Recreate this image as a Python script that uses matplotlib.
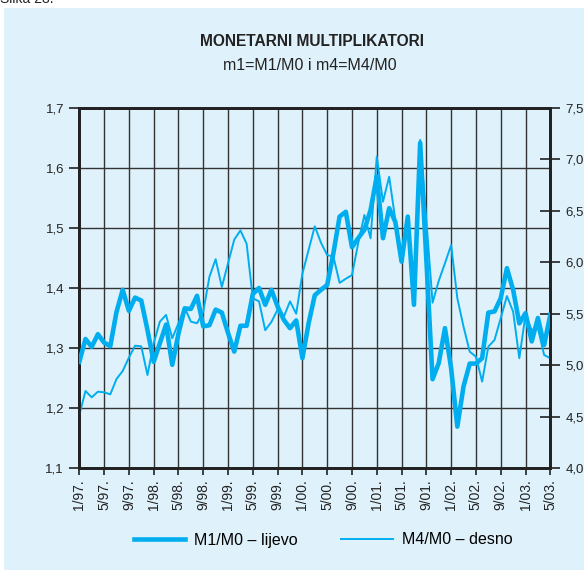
import matplotlib
matplotlib.use("Agg")
import matplotlib.pyplot as plt
from matplotlib.patches import Rectangle

plt.rcParams['font.family'] = ['Liberation Sans', 'DejaVu Sans']

# monthly data 1/97 - 5/03
m1_m0 = [1.277, 1.315, 1.302, 1.323, 1.309, 1.303, 1.360, 1.397, 1.362, 1.384,
         1.379, 1.330, 1.277, 1.308, 1.339, 1.272, 1.324, 1.366, 1.365, 1.387,
         1.336, 1.338, 1.364, 1.359, 1.325, 1.294, 1.337, 1.337, 1.390, 1.400,
         1.372, 1.397, 1.369, 1.347, 1.333, 1.346, 1.283, 1.341, 1.388, 1.397,
         1.405, 1.458, 1.519, 1.527, 1.468, 1.483, 1.497, 1.530, 1.586, 1.483,
         1.533, 1.510, 1.444, 1.519, 1.372, 1.642, 1.447, 1.248, 1.275, 1.333,
         1.266, 1.169, 1.236, 1.274, 1.274, 1.283, 1.359, 1.361, 1.383, 1.433,
         1.397, 1.341, 1.358, 1.311, 1.350, 1.305, 1.355]
m4_m0 = [4.515, 4.749, 4.687, 4.742, 4.736, 4.716, 4.865, 4.943, 5.073, 5.189,
         5.183, 4.904, 5.212, 5.423, 5.488, 5.261, 5.407, 5.562, 5.423, 5.407,
         5.52, 5.86, 6.03, 5.76, 5.99, 6.22, 6.31, 6.18, 5.65, 5.62,
         5.34, 5.42, 5.54, 5.47, 5.62, 5.50, 5.89, 6.12, 6.35, 6.19,
         6.07, 6.055, 5.80, 5.84, 5.876, 6.185, 6.46, 6.233, 7.027, 6.589,
         6.832, 6.41, 6.02, 6.44, 5.75, 7.19, 6.41, 5.607, 5.82, 5.99,
         6.168, 5.65, 5.374, 5.131, 5.082, 4.84, 5.18, 5.245, 5.456, 5.672,
         5.52, 5.067, 5.49, 5.342, 5.358, 5.099, 5.067]

x_labels = ['1/97.', '5/97.', '9/97.', '1/98.', '5/98.', '9/98.', '1/99.', '5/99.',
            '9/99.', '1/00.', '5/00.', '9/00.', '1/01.', '5/01.', '9/01.', '1/02.',
            '5/02.', '9/02.', '1/03.', '5/03.']
left_ticks = [1.1, 1.2, 1.3, 1.4, 1.5, 1.6, 1.7]
left_labels = ['1,1', '1,2', '1,3', '1,4', '1,5', '1,6', '1,7']
right_ticks = [4.0, 4.5, 5.0, 5.5, 6.0, 6.5, 7.0, 7.5]
right_labels = ['4,0', '4,5', '5,0', '5,5', '6,0', '6,5', '7,0', '7,5']

bg = '#DFF1FB'
blue = '#00AEEF'
gridc = '#333333'
txt = '#222222'

fig = plt.figure(figsize=(5.84, 5.70), dpi=100)
fig.patch.set_facecolor('white')
fig.patches.append(Rectangle((4 / 584, 0), 1, 1 - 8 / 570, transform=fig.transFigure,
                             facecolor=bg, edgecolor='none', zorder=-10))
fig.text(0.0, 1.0 + 1 / 570, 'Slika 28.', fontsize=10, ha='left', va='center', color=txt)

ax = fig.add_axes([79.3 / 584, 1 - 468 / 570, 471 / 584, 360 / 570])
ax.set_facecolor(bg)
months = list(range(len(m1_m0)))

ax.set_xlim(0, len(m1_m0) - 1)
ax.set_ylim(1.1, 1.7)
ax.set_xticks(range(0, len(m1_m0), 4))
ax.set_xticklabels(x_labels, rotation=90, fontsize=10, color=txt)
ax.set_yticks(left_ticks)
ax.set_yticklabels(left_labels, fontsize=9.5, color=txt)
ax.grid(True, color=gridc, lw=1.0)
ax.set_axisbelow(True)
ax.tick_params(axis='x', direction='out', length=5, width=1.2, color=txt, pad=3)
ax.tick_params(axis='y', direction='out', length=7, width=1.2, color=txt, pad=4)
for s in ax.spines.values():
    s.set_linewidth(2.0)
    s.set_color(txt)

ax2 = ax.twinx()
ax2.set_ylim(4.0, 7.5)
ax2.set_yticks(right_ticks)
ax2.set_yticklabels(right_labels, fontsize=9.5, color=txt)
ax2.tick_params(axis='y', direction='inout', length=14, width=1.2, color=txt, pad=4)
for s in ax2.spines.values():
    s.set_linewidth(2.0)
    s.set_color(txt)

l2, = ax2.plot(months, m4_m0, color=blue, lw=1.4, label='M4/M0 – desno')
l1, = ax2.plot([], [], color=blue, lw=3.3, label='M1/M0 – lijevo')
# thick series on the left scale, drawn on top
ax3 = ax.twinx()
ax3.set_ylim(1.1, 1.7)
ax3.set_yticks([])
for s in ax3.spines.values():
    s.set_visible(False)
ax3.plot(months, m1_m0, color=blue, lw=3.3)

fig.text(312 / 584, 1 - 42 / 570, 'MONETARNI MULTIPLIKATORI', fontsize=11.2, fontweight='bold',
         ha='center', va='center', color=txt)
fig.text(310 / 584, 1 - 66 / 570, 'm1=M1/M0 i m4=M4/M0', fontsize=11.5,
         ha='center', va='center', color=txt)

fig.legend(handles=[l1, l2], loc='center', bbox_to_anchor=(323 / 584, 1 - 540 / 570),
           ncol=2, frameon=False, fontsize=11.5, handlelength=3.2, handletextpad=0.56,
           columnspacing=2.75)

fig.savefig('out.png', dpi=100, facecolor=fig.get_facecolor())
